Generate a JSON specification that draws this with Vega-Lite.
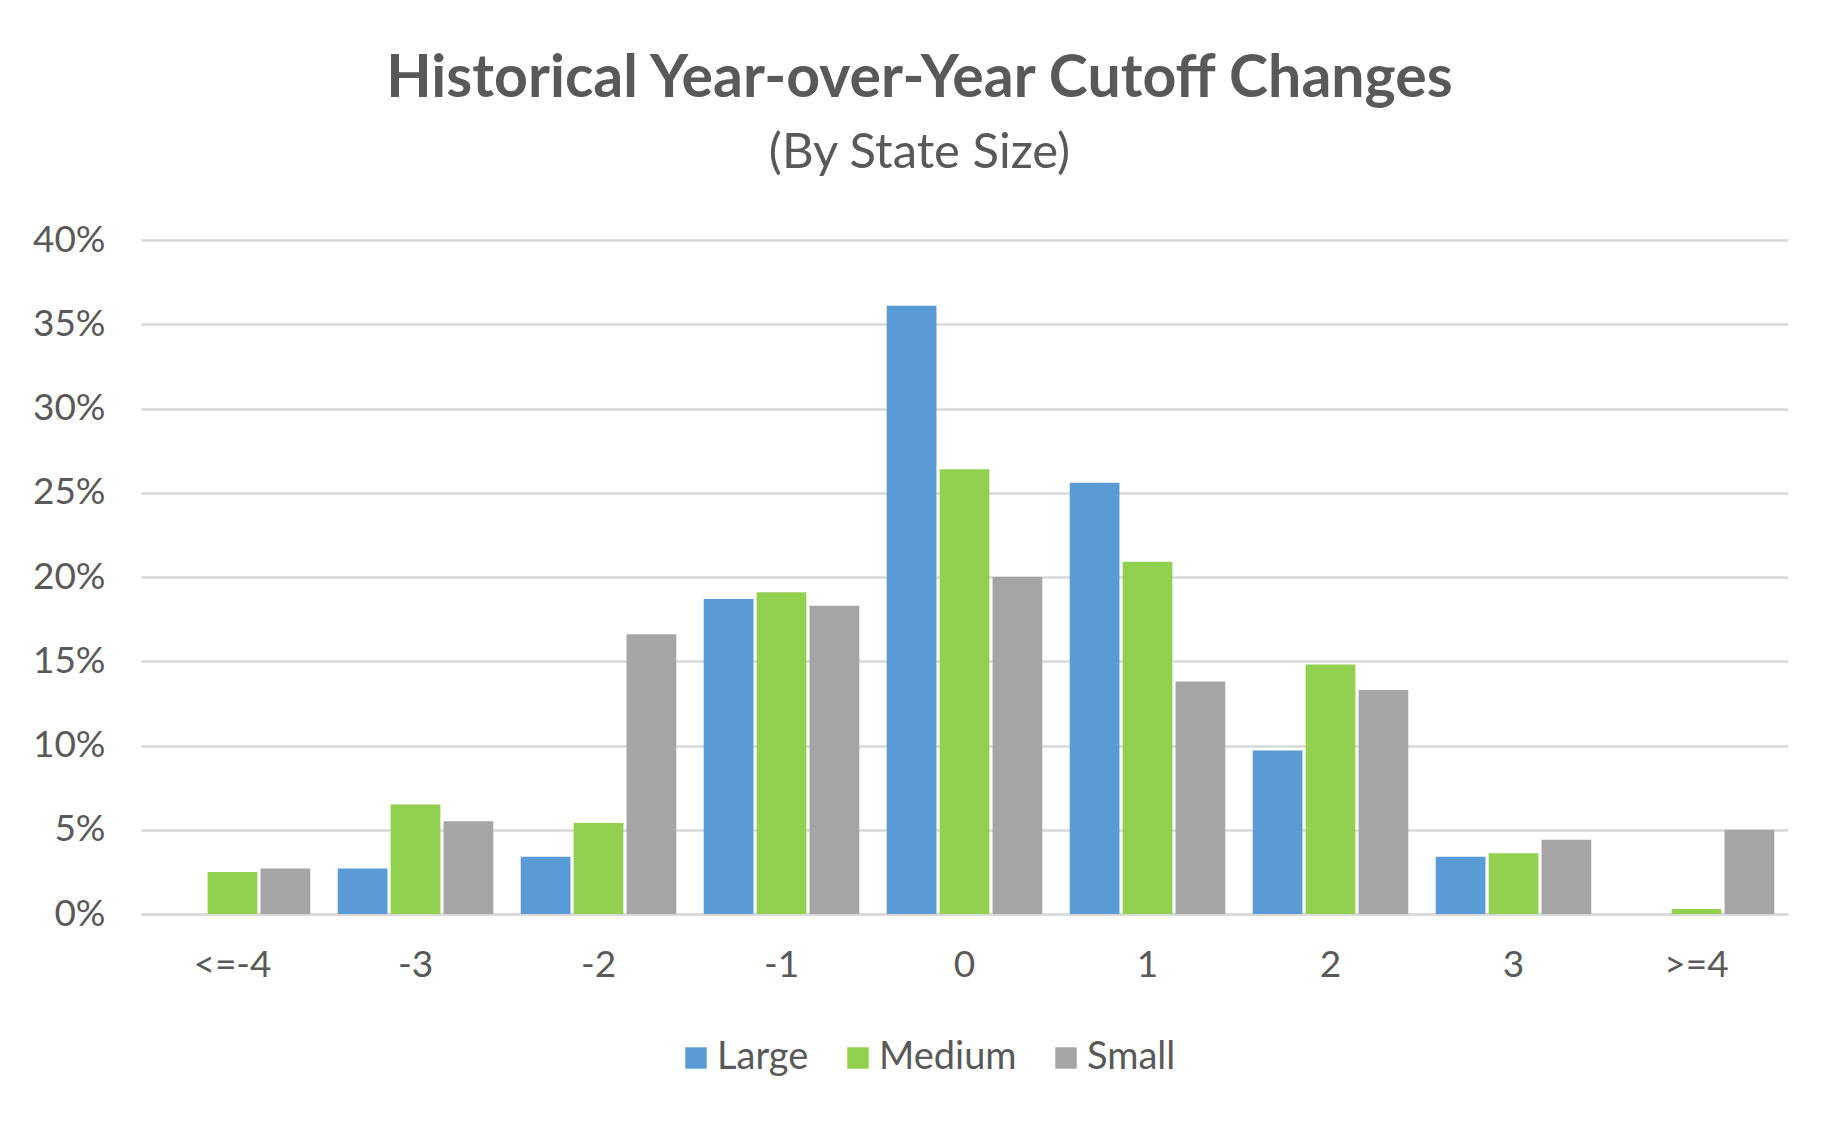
{
  "$schema": "https://vega.github.io/schema/vega-lite/v6.json",
  "width": 1647,
  "height": 674,
  "autosize": {"type": "none"},
  "padding": {"left": 141, "top": 240, "right": 54, "bottom": 218},
  "background": "white",
  "title": {
    "text": "Historical Year-over-Year Cutoff Changes",
    "subtitle": "(By State Size)",
    "font": "Lato",
    "fontSize": 59,
    "fontWeight": "bold",
    "color": "#595959",
    "subtitleFont": "Lato",
    "subtitleFontSize": 49,
    "subtitleColor": "#595959",
    "subtitlePadding": 20,
    "anchor": "middle",
    "frame": "group",
    "dx": -45,
    "offset": 43
  },
  "data": {
    "values": [
      {"change": "<=-4", "size": "Large", "share": 0},
      {"change": "<=-4", "size": "Medium", "share": 0.025},
      {"change": "<=-4", "size": "Small", "share": 0.027},
      {"change": "-3", "size": "Large", "share": 0.027},
      {"change": "-3", "size": "Medium", "share": 0.065},
      {"change": "-3", "size": "Small", "share": 0.055},
      {"change": "-2", "size": "Large", "share": 0.034},
      {"change": "-2", "size": "Medium", "share": 0.054},
      {"change": "-2", "size": "Small", "share": 0.166},
      {"change": "-1", "size": "Large", "share": 0.187},
      {"change": "-1", "size": "Medium", "share": 0.191},
      {"change": "-1", "size": "Small", "share": 0.183},
      {"change": "0", "size": "Large", "share": 0.361},
      {"change": "0", "size": "Medium", "share": 0.264},
      {"change": "0", "size": "Small", "share": 0.200},
      {"change": "1", "size": "Large", "share": 0.256},
      {"change": "1", "size": "Medium", "share": 0.209},
      {"change": "1", "size": "Small", "share": 0.138},
      {"change": "2", "size": "Large", "share": 0.097},
      {"change": "2", "size": "Medium", "share": 0.148},
      {"change": "2", "size": "Small", "share": 0.133},
      {"change": "3", "size": "Large", "share": 0.034},
      {"change": "3", "size": "Medium", "share": 0.036},
      {"change": "3", "size": "Small", "share": 0.044},
      {"change": ">=4", "size": "Large", "share": 0},
      {"change": ">=4", "size": "Medium", "share": 0.003},
      {"change": ">=4", "size": "Small", "share": 0.050}
    ]
  },
  "mark": {"type": "bar"},
  "encoding": {
    "x": {
      "field": "change",
      "type": "nominal",
      "sort": ["<=-4", "-3", "-2", "-1", "0", "1", "2", "3", ">=4"],
      "scale": {"paddingInner": 0.15, "paddingOuter": 0.075},
      "axis": {
        "title": null,
        "labelAngle": 0,
        "labelFont": "Lato",
        "labelFontSize": 37,
        "labelColor": "#595959",
        "labelPadding": 33,
        "ticks": false,
        "domain": true,
        "domainColor": "#D9D9D9",
        "domainWidth": 2.5
      }
    },
    "xOffset": {
      "field": "size",
      "type": "nominal",
      "sort": ["Large", "Medium", "Small"],
      "scale": {"paddingInner": 0.06}
    },
    "y": {
      "field": "share",
      "type": "quantitative",
      "scale": {"domain": [0, 0.4]},
      "axis": {
        "title": null,
        "format": ".0%",
        "values": [0, 0.05, 0.1, 0.15, 0.2, 0.25, 0.3, 0.35, 0.4],
        "labelFont": "Lato",
        "labelFontSize": 37,
        "labelColor": "#595959",
        "labelPadding": 36,
        "ticks": false,
        "domain": false,
        "grid": true,
        "gridColor": "#D9D9D9",
        "gridWidth": 2.5
      }
    },
    "color": {
      "field": "size",
      "type": "nominal",
      "scale": {"domain": ["Large", "Medium", "Small"], "range": ["#5B9BD5", "#92D050", "#A5A5A5"]},
      "legend": {
        "title": null,
        "orient": "none",
        "direction": "horizontal",
        "legendX": 536,
        "legendY": 799,
        "symbolType": "square",
        "symbolSize": 460,
        "symbolStrokeWidth": 0,
        "labelFont": "Lato",
        "labelFontSize": 38,
        "labelColor": "#595959",
        "labelOffset": 2,
        "columnPadding": 30
      }
    }
  },
  "config": {
    "view": {"stroke": null}
  }
}
